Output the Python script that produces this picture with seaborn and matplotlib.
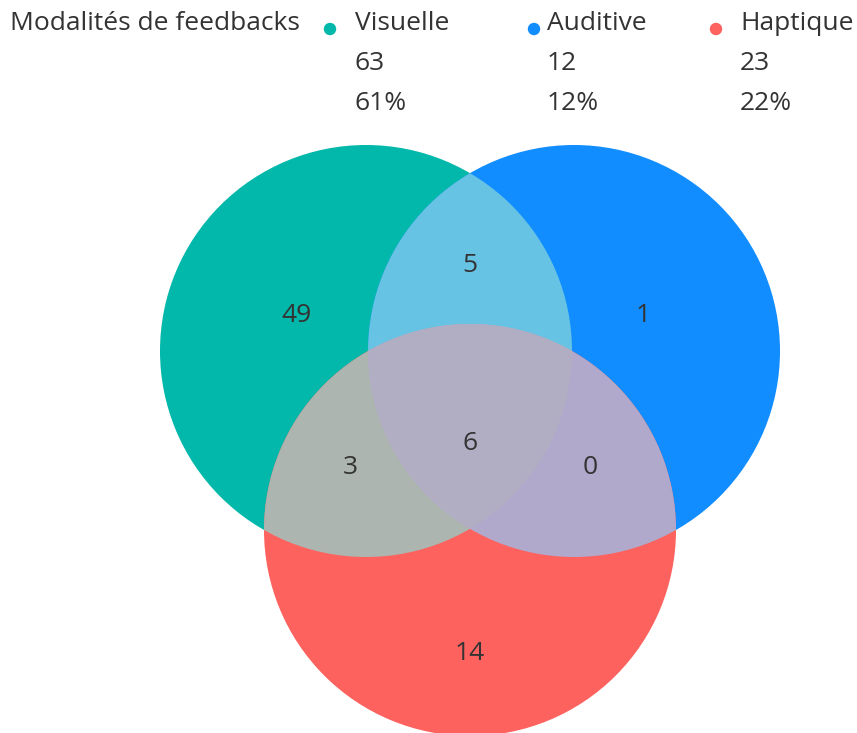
import numpy as np
import matplotlib
matplotlib.use("Agg")
import matplotlib.pyplot as plt
from matplotlib.patches import Circle, Polygon
import seaborn as sns

# data
sets = ["Visuelle", "Auditive", "Haptique"]
totals = [63, 12, 23]
percents = ["61%", "12%", "22%"]
set_colors = ["#01B8AA", "#118DFF", "#FD625E"]
# region counts: V only, A only, H only, V&A, V&H, A&H, V&A&H
region_names = ["V", "A", "H", "VA", "VH", "AH", "VAH"]
region_counts = [49, 1, 14, 5, 3, 0, 6]
legend_title = "Modalités de feedbacks"

sns.set_theme(style="white")
plt.rcParams["font.family"] = ["Open Sans", "DejaVu Sans"]

fig = plt.figure(figsize=(8.57, 7.33), dpi=100)
ax = fig.add_axes([0, 0, 1, 1])
ax.set_xlim(0, 857)
ax.set_ylim(733, 0)
ax.set_aspect("equal")
ax.axis("off")

# circle layout (pixels)
centers = [(366, 351), (574, 351), (470, 530)]
r = 206

for (cx, cy), col in zip(centers, set_colors):
    ax.add_patch(Circle((cx, cy), r, facecolor=col, edgecolor="none", zorder=1))


def lens(c1, c2, n=600):
    t = np.linspace(0, 2 * np.pi, n)
    pts = []
    for a, b in [(c1, c2), (c2, c1)]:
        x = a[0] + r * np.cos(t)
        y = a[1] + r * np.sin(t)
        inside = (x - b[0]) ** 2 + (y - b[1]) ** 2 <= r ** 2
        pts.append(np.column_stack([x[inside], y[inside]]))
    pts = np.vstack(pts)
    m = pts.mean(axis=0)
    ang = np.arctan2(pts[:, 1] - m[1], pts[:, 0] - m[0])
    return pts[np.argsort(ang)]


overlap_colors = {"VA": "#67C3E4", "VH": "#ADB5B0", "AH": "#B1A9CC", "VAH": "#B1AEC4"}

# pairwise overlaps
pairs = {"VA": (0, 1), "VH": (0, 2), "AH": (1, 2)}
for key, (i, j) in pairs.items():
    clip = Circle(centers[i], r, transform=ax.transData, facecolor="none", edgecolor="none")
    ax.add_patch(clip)
    p = Circle(centers[j], r, facecolor=overlap_colors[key], edgecolor="none", zorder=2)
    ax.add_patch(p)
    p.set_clip_path(clip)

# triple overlap
lens_poly = Polygon(lens(centers[0], centers[1]), closed=True, facecolor="none",
                    edgecolor="none", transform=ax.transData)
ax.add_patch(lens_poly)
tri = Circle(centers[2], r, facecolor=overlap_colors["VAH"], edgecolor="none", zorder=3)
ax.add_patch(tri)
tri.set_clip_path(lens_poly)

txt_color = "#333333"
fs = 19

# region labels
label_pos = {"V": (297, 316), "A": (643, 316), "H": (470, 653), "VA": (470, 265),
             "VH": (350, 468), "AH": (590, 468), "VAH": (470, 444)}
for name, cnt in zip(region_names, region_counts):
    x, y = label_pos[name]
    ax.text(x, y, str(cnt), ha="center", va="center", fontsize=fs, color=txt_color, zorder=5)

# legend header
ax.text(10, 24, legend_title, ha="left", va="center", fontsize=fs, color=txt_color)
dot_x = [330, 534, 716]
text_x = [355, 547, 740]
sns.scatterplot(x=dot_x, y=[29, 29, 29], hue=sets, palette=set_colors, s=80,
                edgecolor="none", legend=False, ax=ax, zorder=5)
for tx, name, tot, pct in zip(text_x, sets, totals, percents):
    ax.text(tx, 24, name, ha="left", va="center", fontsize=fs, color=txt_color)
    ax.text(tx, 64, str(tot), ha="left", va="center", fontsize=fs, color=txt_color)
    ax.text(tx, 103, pct, ha="left", va="center", fontsize=fs, color=txt_color)

fig.savefig("out.png", dpi=100, facecolor="white")
